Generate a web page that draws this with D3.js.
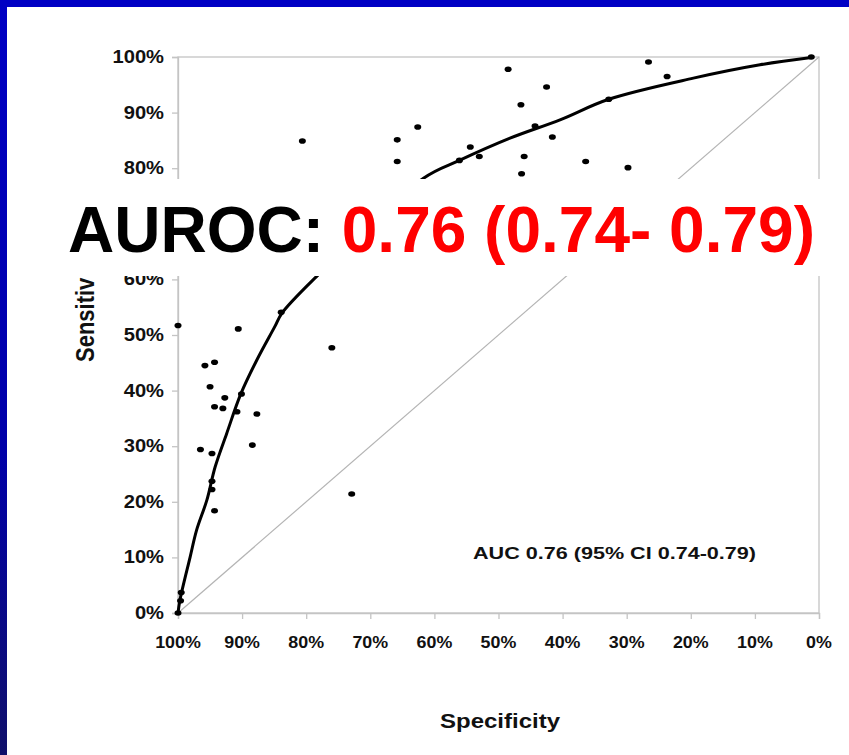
<!DOCTYPE html>
<html>
  <head>
    <meta charset="UTF-8">
    <title>AUROC</title>
    <script src="https://d3js.org/d3.v7.min.js"></script>
    <style>
      body { margin: 0; background: #fff; }
      text { font-family: "Liberation Sans", Arial, sans-serif; font-weight: bold; }
    </style>
  </head>
  <body>
    <svg width="849" height="755"></svg>
    <script>
      // observed points (specificity, sensitivity)
      const pointSpec = [0.485, 0.425, 0.465, 0.626, 0.806, 0.658, 0.658, 0.443, 0.416, 0.544,
        0.530, 0.561, 0.460, 0.464, 0.266, 0.237, 0.328, 0.364, 0.298, 0.012,
        1.000, 0.906, 0.958, 0.943, 0.950, 0.927, 0.901, 0.943, 0.930, 0.908,
        0.877, 0.965, 0.947, 0.884, 0.947, 0.947, 0.943, 0.839, 0.760, 0.729,
        1.000, 0.996, 0.995];
      const pointSens = [0.978, 0.946, 0.914, 0.874, 0.849, 0.851, 0.812, 0.876, 0.856, 0.838,
        0.821, 0.814, 0.821, 0.790, 0.991, 0.965, 0.924, 0.812, 0.801, 1.000,
        0.517, 0.511, 0.445, 0.451, 0.407, 0.387, 0.394, 0.371, 0.368, 0.362,
        0.358, 0.294, 0.287, 0.302, 0.237, 0.222, 0.184, 0.541, 0.477, 0.214,
        0.000, 0.022, 0.037];

      // fitted ROC curve
      const curveSpec = [1.000, 0.997, 0.981, 0.971, 0.955, 0.942, 0.924, 0.902, 0.877, 0.849,
        0.838, 0.784, 0.617, 0.561, 0.482, 0.404, 0.328, 0.196, 0.092, 0.012];
      const curveSens = [0.000, 0.023, 0.101, 0.149, 0.203, 0.263, 0.323, 0.394, 0.455, 0.515,
        0.539, 0.605, 0.782, 0.814, 0.854, 0.887, 0.924, 0.962, 0.986, 0.999];

      const xTicks = [1, 0.9, 0.8, 0.7, 0.6, 0.5, 0.4, 0.3, 0.2, 0.1, 0];
      const yTicks = [0, 0.1, 0.2, 0.3, 0.4, 0.5, 0.6, 0.7, 0.8, 0.9, 1];

      const width = 849;
      const height = 755;
      const svg = d3.select("svg");

      const x = d3.scaleLinear().domain([1, 0]).range([178, 819]);
      const y = d3.scaleLinear().domain([0, 1]).range([613, 57]);
      const pct = d3.format(".0%");

      // widen text like the stretched original
      function stretch(sel, k) {
        sel.each(function() {
          const w = this.getComputedTextLength();
          d3.select(this).attr("textLength", w * k).attr("lengthAdjust", "spacingAndGlyphs");
        });
      }

      // slide frame
      const grad = svg.append("defs").append("linearGradient")
        .attr("id", "side").attr("x1", 0).attr("y1", 0).attr("x2", 0).attr("y2", 1);
      grad.append("stop").attr("offset", "0%").attr("stop-color", "#0000c4");
      grad.append("stop").attr("offset", "60%").attr("stop-color", "#0000a8");
      grad.append("stop").attr("offset", "100%").attr("stop-color", "#10106a");
      svg.append("rect").attr("width", width).attr("height", height).attr("fill", "#fff");
      svg.append("rect").attr("width", width).attr("height", 7).attr("fill", "#0000c4");
      svg.append("rect").attr("width", 7).attr("height", height).attr("fill", "url(#side)");

      // plot frame
      const frame = svg.append("g").attr("stroke", "#c4c4c4").attr("stroke-width", 1.3).attr("fill", "none");
      frame.append("rect")
        .attr("x", x(1)).attr("y", y(1))
        .attr("width", x(0) - x(1)).attr("height", y(0) - y(1));

      const xAxis = svg.append("g")
        .attr("transform", `translate(0,${y(0)})`)
        .call(d3.axisBottom(x).tickValues(xTicks).tickSize(6).tickFormat(""));
      const yAxis = svg.append("g")
        .attr("transform", `translate(${x(1)},0)`)
        .call(d3.axisLeft(y).tickValues(yTicks).tickSize(6).tickFormat(""));
      [xAxis, yAxis].forEach(a => {
        a.select(".domain").attr("stroke", "#c4c4c4").attr("stroke-width", 1.3);
        a.selectAll(".tick line").attr("stroke", "#c4c4c4").attr("stroke-width", 1.3);
      });

      svg.append("g").selectAll("text")
        .data(xTicks)
        .join("text")
        .attr("x", d => x(d))
        .attr("y", 648)
        .attr("text-anchor", "middle")
        .attr("font-size", 17)
        .attr("fill", "#111")
        .text(d => pct(d))
        .call(stretch, 1.05);

      // the 70% label sits under the title band
      svg.append("g").selectAll("text")
        .data(yTicks.filter(d => d !== 0.7))
        .join("text")
        .attr("x", 164)
        .attr("y", d => y(d) + 6)
        .attr("text-anchor", "end")
        .attr("font-size", 17.5)
        .attr("fill", "#111")
        .text(d => pct(d))
        .call(stretch, 1.15);

      // chance line
      svg.append("line")
        .attr("x1", x(1)).attr("y1", y(0))
        .attr("x2", x(0)).attr("y2", y(1))
        .attr("stroke", "#b4b4b4").attr("stroke-width", 1.2);

      // fitted curve
      const line = d3.line()
        .x(d => x(d[0]))
        .y(d => y(d[1]))
        .curve(d3.curveCatmullRom.alpha(0.5));
      svg.append("path")
        .datum(d3.zip(curveSpec, curveSens))
        .attr("d", line)
        .attr("fill", "none")
        .attr("stroke", "#000")
        .attr("stroke-width", 3);

      svg.append("g").selectAll("ellipse")
        .data(d3.zip(pointSpec, pointSens))
        .join("ellipse")
        .attr("cx", d => x(d[0]))
        .attr("cy", d => y(d[1]))
        .attr("rx", 3.5)
        .attr("ry", 2.8)
        .attr("fill", "#000");

      svg.append("text")
        .attr("x", 473).attr("y", 559)
        .attr("font-size", 16)
        .attr("fill", "#111")
        .text("AUC 0.76 (95% CI 0.74-0.79)")
        .attr("textLength", 283).attr("lengthAdjust", "spacingAndGlyphs");

      svg.append("text")
        .attr("x", 500).attr("y", 728)
        .attr("text-anchor", "middle")
        .attr("font-size", 20)
        .attr("fill", "#111")
        .text("Specificity")
        .call(stretch, 1.2);

      // only the start of the axis title shows below the band
      svg.append("text")
        .attr("transform", "translate(94,362) scale(1.2,1) rotate(-90)")
        .attr("font-size", 22)
        .attr("fill", "#111")
        .text("Sensitiv");

      // title band laid over the chart
      svg.append("rect")
        .attr("x", 7).attr("y", 179)
        .attr("width", width - 7).attr("height", 97)
        .attr("fill", "#fff");
      const title = svg.append("text")
        .attr("x", 68).attr("y", 252)
        .attr("font-size", 64);
      title.append("tspan").attr("fill", "#000").text("AUROC: ");
      title.append("tspan").attr("fill", "#ff0000").text("0.76 (0.74- 0.79)");
    </script>
  </body>
</html>
